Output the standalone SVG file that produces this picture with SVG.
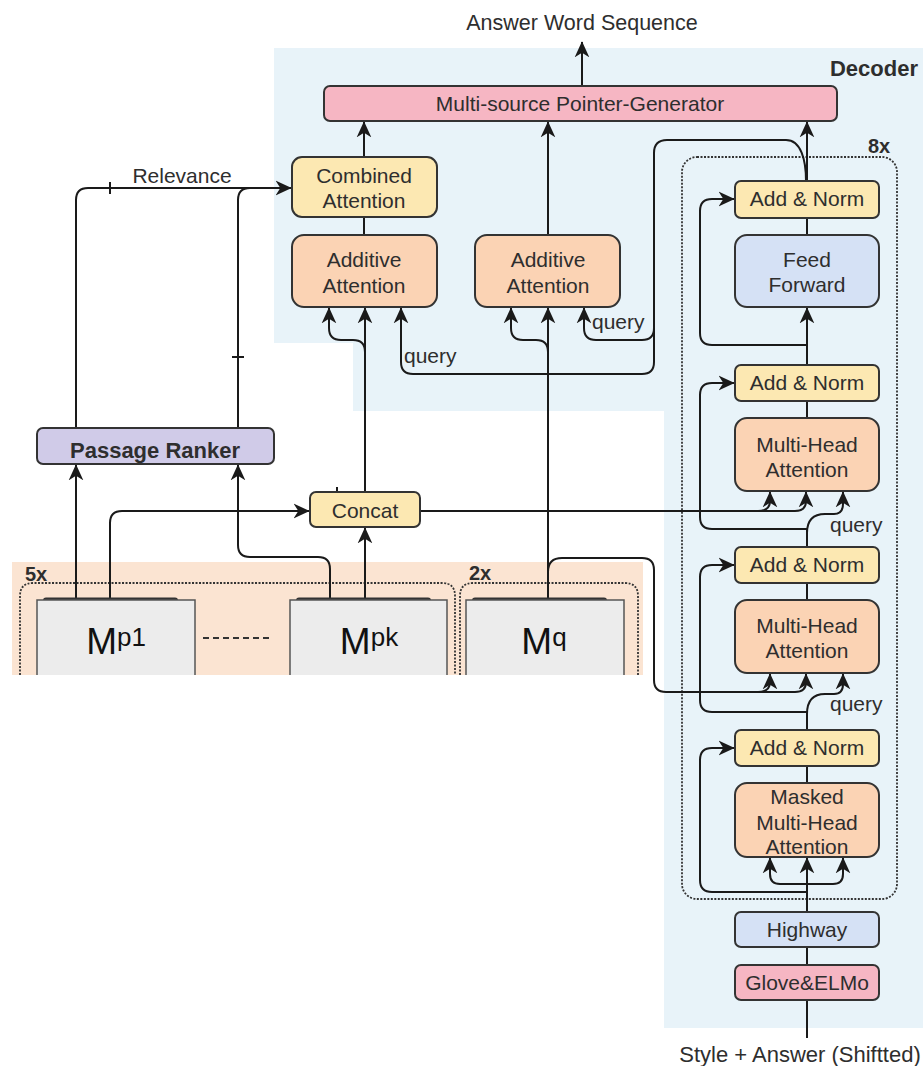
<svg xmlns="http://www.w3.org/2000/svg" width="923" height="1066" viewBox="0 0 923 1066">
<defs>
<marker id="arr" viewBox="0 0 12 12" refX="11.5" refY="6" markerWidth="16" markerHeight="16" markerUnits="userSpaceOnUse" orient="auto">
<path d="M0,0.5 L12,6 L0,11.5 L3.5,6 z" fill="#1a1a1a"/>
</marker>
<style>
text{font-family:"Liberation Sans",Arial,sans-serif;font-size:21px;fill:#2e2e2e;}
.c{text-anchor:middle;}
.b{font-weight:bold;}
.box{stroke:#333;stroke-width:2;}
.yel{fill:#fce8b2;}
.pch{fill:#fbd3b4;}
.blu{fill:#d5e1f5;}
.pnk{fill:#f6b6c3;}
.lav{fill:#d0cbe8;}
.ln{fill:none;stroke:#1a1a1a;stroke-width:2;}
.ar{marker-end:url(#arr);}
.dot{fill:none;stroke:#333;stroke-width:1.8;stroke-dasharray:2 1.5;}
</style>
</defs>
<g id="backgrounds">
<polygon points="274,48 923,48 923,1028 664,1028 664,411 353,411 353,343 274,343" fill="#e8f3f9"/>
<rect x="12" y="562" width="631" height="113" fill="#fbe4d2"/>
<path class="dot" d="M20 675 L20 596 Q20 583 33 583 L442 583 Q455 583 455 596 L455 675"/>
<path class="dot" d="M460 675 L460 596 Q460 583 473 583 L625 583 Q638 583 638 596 L638 675"/>
<rect class="dot" x="682" y="157" width="215" height="742" rx="15"/>
<text x="918" y="76" class="b" text-anchor="end" style="font-size:22px">Decoder</text>
<text x="879" y="153" class="c b" style="font-size:20px">8x</text>
<text x="25" y="581" class="b" style="font-size:20px">5x</text>
<text x="469" y="580" class="b" style="font-size:20px">2x</text>
</g>
<g id="connectors">
<path class="ln ar" d="M582 86 L582 42"/>
<path class="ln ar" d="M364 157 L364 122"/>
<path class="ln ar" d="M548 235 L548 122"/>
<path class="ln ar" d="M807 181 L807 122"/>
<path class="ln" d="M364 235 L364 217"/>
<path class="ln ar" d="M76 428 L76 200 Q76 188 88 188 L291 188"/>
<path class="ln" d="M238 428 L238 200 Q238 188 250 188"/>
<path class="ln" d="M110 182 L110 194"/>
<path class="ln" d="M232 357 L244 357"/>
<path class="ln ar" d="M76 600 L76 465"/>
<path class="ln ar" d="M330 600 L330 569 Q330 557 318 557 L250 557 Q238 557 238 545 L238 465"/>
<path class="ln ar" d="M110 600 L110 523 Q110 511 122 511 L309 511"/>
<path class="ln ar" d="M365 600 L365 528"/>
<path class="ln ar" d="M365 492 L365 308"/>
<path class="ln" d="M337 487 L337 492"/>
<path class="ln ar" d="M365 352 Q365 340 353 340 L341 340 Q329 340 329 328 L329 308"/>
<path class="ln ar" d="M548 600 L548 308"/>
<path class="ln ar" d="M548 352 Q548 340 536 340 L523 340 Q511 340 511 328 L511 308"/>
<path class="ln" d="M548 572 Q548 558 562 558 L642 558 Q654 558 654 570 L654 680 Q654 692 666 692 L760 692"/>
<path class="ln ar" d="M758 692 Q770 692 770 682 L770 674"/>
<path class="ln ar" d="M760 692 L795 692 Q806 692 806 682 L806 674"/>
<path class="ln ar" d="M806 181 C806 160 801 140 786 140 L667 140 Q654 140 654 153 L654 362 Q654 374 642 374 L413 374 Q401 374 401 362 L401 308"/>
<path class="ln ar" d="M654 328 Q654 340 642 340 L596 340 Q584 340 584 328 L584 308"/>
<path class="ln" d="M420 511 L760 511"/>
<path class="ln ar" d="M758 511 Q770 511 770 501 L770 492"/>
<path class="ln ar" d="M760 511 L795 511 Q806 511 806 501 L806 492"/>
<path class="ln" d="M807 1038 L807 1000"/>
<path class="ln" d="M807 965 L807 947"/>
<path class="ln ar" d="M807 912 L807 858"/>
<path class="ln ar" d="M807 884 L780 884 Q770 884 770 874 L770 858"/>
<path class="ln ar" d="M807 884 L833 884 Q843 884 843 874 L843 858"/>
<path class="ln ar" d="M807 892 L712 892 Q700 892 700 880 L700 760 Q700 748 712 748 L734 748"/>
<path class="ln" d="M807 783 L807 766"/>
<path class="ln" d="M807 730 L807 712"/>
<path class="ln ar" d="M807 714 Q807 694 825 694 L834 694 Q843 694 843 684 L843 674"/>
<path class="ln ar" d="M807 712 L712 712 Q700 712 700 700 L700 577 Q700 565 712 565 L734 565"/>
<path class="ln" d="M807 600 L807 583"/>
<path class="ln" d="M807 547 L807 529"/>
<path class="ln ar" d="M807 533 Q807 514 825 514 L834 514 Q843 514 843 504 L843 492"/>
<path class="ln ar" d="M807 529 L712 529 Q700 529 700 517 L700 395 Q700 383 712 383 L734 383"/>
<path class="ln" d="M807 418 L807 401"/>
<path class="ln ar" d="M807 365 L807 308"/>
<path class="ln ar" d="M807 345 L712 345 Q700 345 700 333 L700 211 Q700 199 712 199 L734 199"/>
<path class="ln" d="M807 235 L807 218"/>
<path d="M203 638 L272 638" stroke="#333" stroke-width="2" stroke-dasharray="6 4"/>
</g>
<g id="pointer-generator">
<rect class="box pnk" x="324" y="86" width="513" height="35" rx="6"/>
<text x="580" y="111" class="c">Multi-source Pointer-Generator</text>
</g>
<g id="combined-attention">
<rect class="box yel" x="292" y="157" width="145" height="60" rx="10"/>
<text x="364" y="183" class="c">Combined</text>
<text x="364" y="208" class="c">Attention</text>
</g>
<g id="additive-attention-1">
<rect class="box pch" x="292" y="235" width="145" height="72" rx="12"/>
<text x="364" y="267" class="c">Additive</text>
<text x="364" y="293" class="c">Attention</text>
</g>
<g id="additive-attention-2">
<rect class="box pch" x="475" y="235" width="145" height="72" rx="12"/>
<text x="548" y="267" class="c">Additive</text>
<text x="548" y="293" class="c">Attention</text>
</g>
<g id="labels">
<text x="182" y="183" class="c">Relevance</text>
<text x="404" y="363">query</text>
<text x="592" y="329">query</text>
<text x="830" y="532">query</text>
<text x="830" y="711">query</text>
<text x="582" y="30" class="c" style="font-size:21.5px">Answer Word Sequence</text>
<text x="800" y="1062" class="c" style="font-size:22px">Style + Answer (Shiftted)</text>
</g>
<g id="passage-ranker">
<rect class="box lav" x="37" y="428" width="237" height="36" rx="6"/>
<text x="155" y="458" class="c b" style="font-size:22px">Passage Ranker</text>
</g>
<g id="concat">
<rect class="box yel" x="310" y="492" width="110" height="35" rx="6"/>
<text x="365" y="518" class="c">Concat</text>
</g>
<g id="m-p1">
<rect x="43" y="597.5" width="135" height="6" rx="3" fill="#333"/>
<rect x="37" y="600" width="158" height="75" fill="#ececec"/>
<path d="M37 675 L37 600 L195 600 L195 675" fill="none" stroke="#555" stroke-width="1.5"/>
<text x="116" y="654" class="c" style="font-size:37px;fill:#111">M<tspan dy="-8" style="font-size:26px">p1</tspan></text>
</g>
<g id="m-pk">
<rect x="296" y="597.5" width="135" height="6" rx="3" fill="#333"/>
<rect x="290" y="600" width="157" height="75" fill="#ececec"/>
<path d="M290 675 L290 600 L447 600 L447 675" fill="none" stroke="#555" stroke-width="1.5"/>
<text x="369" y="654" class="c" style="font-size:37px;fill:#111">M<tspan dy="-8" style="font-size:26px">pk</tspan></text>
</g>
<g id="m-q">
<rect x="472" y="597.5" width="135" height="6" rx="3" fill="#333"/>
<rect x="466" y="600" width="158" height="75" fill="#ececec"/>
<path d="M466 675 L466 600 L624 600 L624 675" fill="none" stroke="#555" stroke-width="1.5"/>
<text x="544" y="654" class="c" style="font-size:37px;fill:#111">M<tspan dy="-8" style="font-size:26px">q</tspan></text>
</g>
<g id="add-norm-1">
<rect class="box yel" x="735" y="181" width="144" height="37" rx="6"/>
<text x="807" y="206" class="c">Add &amp; Norm</text>
</g>
<g id="feed-forward">
<rect class="box blu" x="735" y="235" width="144" height="72" rx="12"/>
<text x="807" y="267" class="c">Feed</text>
<text x="807" y="292" class="c">Forward</text>
</g>
<g id="add-norm-2">
<rect class="box yel" x="735" y="365" width="144" height="36" rx="6"/>
<text x="807" y="390" class="c">Add &amp; Norm</text>
</g>
<g id="mha-upper">
<rect class="box pch" x="735" y="418" width="144" height="73" rx="12"/>
<text x="807" y="452" class="c">Multi-Head</text>
<text x="807" y="477" class="c">Attention</text>
</g>
<g id="add-norm-3">
<rect class="box yel" x="735" y="547" width="144" height="36" rx="6"/>
<text x="807" y="572" class="c">Add &amp; Norm</text>
</g>
<g id="mha-lower">
<rect class="box pch" x="735" y="600" width="144" height="73" rx="12"/>
<text x="807" y="633" class="c">Multi-Head</text>
<text x="807" y="658" class="c">Attention</text>
</g>
<g id="add-norm-4">
<rect class="box yel" x="735" y="730" width="144" height="36" rx="6"/>
<text x="807" y="755" class="c">Add &amp; Norm</text>
</g>
<g id="masked-mha">
<rect class="box pch" x="735" y="783" width="144" height="74" rx="12"/>
<text x="807" y="804" class="c">Masked</text>
<text x="807" y="830" class="c">Multi-Head</text>
<text x="807" y="854" class="c">Attention</text>
</g>
<g id="highway">
<rect class="box blu" x="735" y="912" width="144" height="35" rx="6"/>
<text x="807" y="937" class="c">Highway</text>
</g>
<g id="glove-elmo">
<rect class="box pnk" x="735" y="965" width="144" height="35" rx="6"/>
<text x="807" y="990" class="c">Glove&amp;ELMo</text>
</g>
</svg>
